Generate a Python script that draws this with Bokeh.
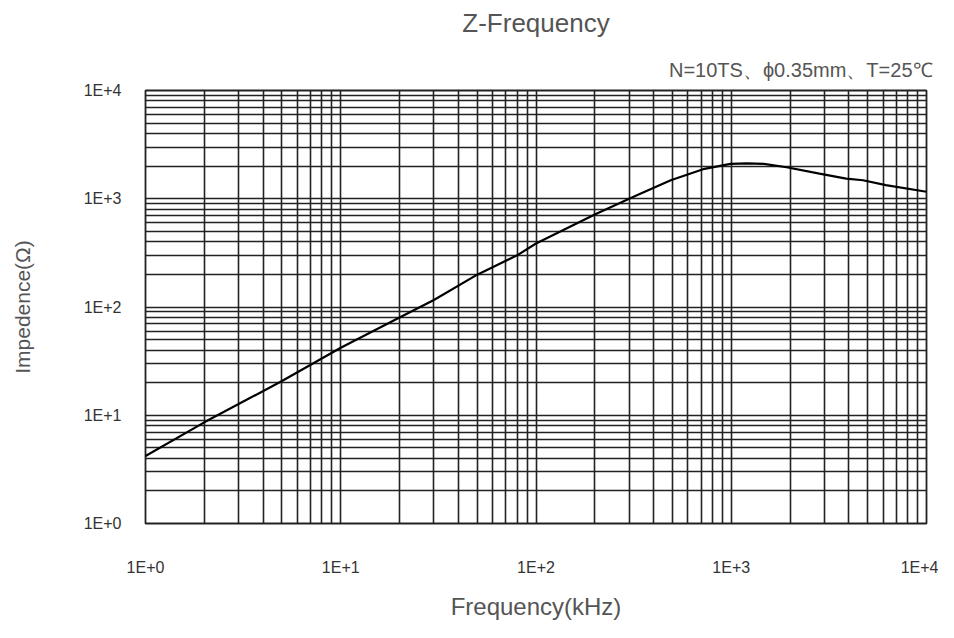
from bokeh.plotting import figure
from bokeh.models import FixedTicker, CustomJSTickFormatter, Title, ColumnDataSource
from bokeh.embed import file_html
from bokeh.resources import INLINE

# data (frequency in kHz, impedance in ohm)
freq = [1, 2, 5, 10, 20, 30, 50, 80, 100, 200, 300, 333, 490, 730, 990, 1200,
        1470, 1920, 2830, 3880, 4730, 6190, 10000]
imped = [4.2, 8.6, 20.7, 42, 80, 116, 199, 300, 386, 717, 1000, 1087, 1483, 1891,
         2098, 2124, 2098, 1955, 1704, 1536, 1483, 1337, 1160]

major_ticks = [1, 10, 100, 1000, 10000]
minor_mult = [2, 3, 4, 5, 6, 7, 8, 9]

title_text = "Z-Frequency"
note_text = "N=10TS、ϕ0.35mm、T=25℃"
x_label = "Frequency(kHz)"
y_label = "Impedence(Ω)"

minor_ticks = [m * d for d in major_ticks[:-1] for m in minor_mult]

FONT = "Liberation Sans"

p = figure(width=938, height=622, x_axis_type="log", y_axis_type="log",
           x_range=(1, 10000), y_range=(1, 10000),
           output_backend="svg", toolbar_location=None, title=None,
           min_border_left=145, min_border_right=12, min_border_top=87,
           min_border_bottom=96)

note = Title(text=note_text, align="right", text_font=FONT, text_font_size="20px",
             text_font_style="normal", text_color="#555555", standoff=19, offset=-6)
p.add_layout(note, "above")
main = Title(text=title_text, align="center", text_font=FONT, text_font_size="26px",
             text_font_style="normal", text_color="#555555", standoff=15,
             vertical_align="top")
p.add_layout(main, "above")

fmt = CustomJSTickFormatter(code="return '1E+' + Math.round(Math.log10(tick));")
for ax in (p.xaxis[0], p.yaxis[0]):
    ax.ticker = FixedTicker(ticks=major_ticks, minor_ticks=minor_ticks)
    ax.formatter = fmt
    ax.axis_line_color = None
    ax.major_tick_line_color = None
    ax.minor_tick_line_color = None
    ax.major_label_text_font = FONT
    ax.major_label_text_font_size = "16px"
    ax.major_label_text_color = "#333333"
    ax.axis_label_text_font = FONT
    ax.axis_label_text_font_style = "normal"
    ax.axis_label_text_color = "#555555"

p.xaxis.axis_label = x_label
p.yaxis.axis_label = y_label
p.xaxis.axis_label_text_font_size = "24px"
p.yaxis.axis_label_text_font_size = "21px"
p.xaxis.major_label_standoff = 29
p.xaxis.axis_label_standoff = 14
p.yaxis.major_label_standoff = 18
p.yaxis.axis_label_standoff = 47

for g in (p.xgrid[0], p.ygrid[0]):
    g.grid_line_color = "#222222"
    g.grid_line_width = 1.6
    g.minor_grid_line_color = "#222222"
    g.minor_grid_line_width = 1.6

p.outline_line_color = "#222222"
p.outline_line_width = 1.8
p.background_fill_color = "white"
p.border_fill_color = "white"

src = ColumnDataSource(dict(f=freq, z=imped))
p.line("f", "z", source=src, line_color="black", line_width=2.2)

open("out.html", "w").write(file_html(p, INLINE))
